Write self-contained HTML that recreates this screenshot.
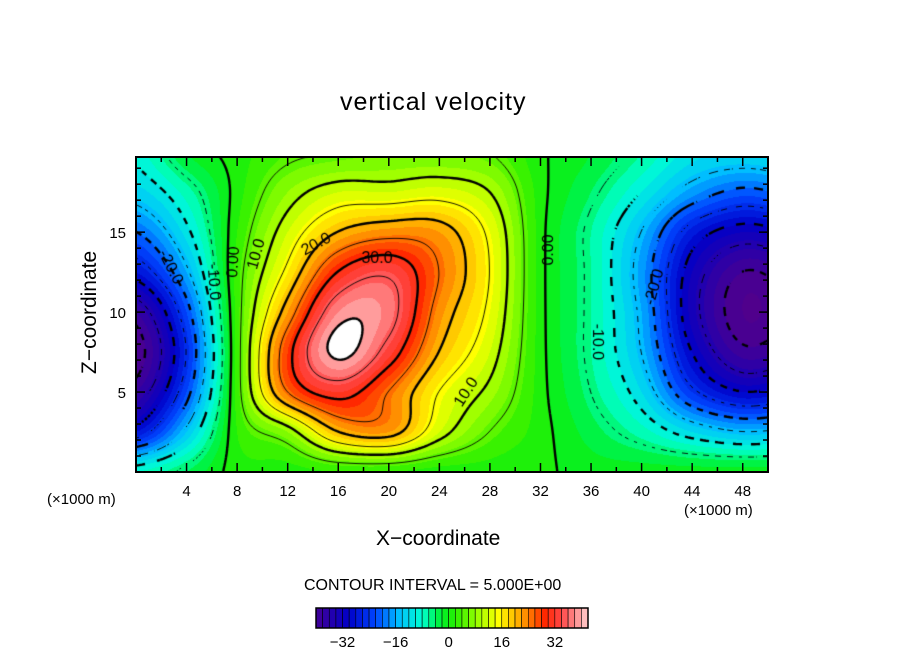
<!DOCTYPE html>
<html><head><meta charset="utf-8">
<style>
body{margin:0;background:#fff;width:904px;height:654px;overflow:hidden;position:relative;font-family:"Liberation Sans",sans-serif;color:#000}
.t{position:absolute;white-space:nowrap}
</style></head>
<body>
<div class="t" style="left:340px;top:88px;font-size:25px;letter-spacing:1px">vertical velocity</div>
<div class="t" style="left:30px;top:302px;font-size:21px;transform:rotate(-90deg);transform-origin:center;width:120px;text-align:center">Z−coordinate</div>
<div class="t" style="left:376px;top:527px;font-size:21px">X−coordinate</div>
<div class="t" style="left:47px;top:491px;font-size:15px">(×1000 m)</div>
<div class="t" style="left:684px;top:502px;font-size:15px">(×1000 m)</div>
<div class="t" style="left:304px;top:577px;font-size:16px">CONTOUR INTERVAL = 5.000E+00</div>
<canvas id="cv" width="632" height="315" style="position:absolute;left:136px;top:157px"></canvas>
<svg id="ov" width="904" height="654" style="position:absolute;left:0;top:0"></svg>
<script>
// grid coordinates (km) and values
const xNodes = [0,4,8,12,16,20,24,28,32,36,40,44,48,52];
const zNodes = [0,2.5,5,7.5,10,12.5,15,17.5,20];
const w_x0  = [-8,-28,-38,-42,-38,-28,-20,-13,-9];
const w_x4  = [-4,-14,-22,-25,-22,-16,-11,-7,-2];
const w_x8  = [1,2,3,3,3,3,2,1,1];
const w_x12 = [1,8,25,28,22,16,12,8,4];
const w_x16 = [2,20,32,41,38,30,20,12,5];
const w_x20 = [2,22,25,33,37,34,23,12,6];
const w_x24 = [1,12,15,20,23,25,22,13,6];
const w_x28 = [1,5,9,12,14,15,14,10,5];
const w_x32 = [0.5,1,1,1,1,1,1,1,0.5];
const w_x36 = [-1,-3,-5,-6,-6,-6,-6,-4,-2];
const w_x40 = [-1,-7,-12,-15,-16,-17,-15,-10,-6];
const w_x44 = [-1,-12,-24,-30,-33,-32,-27,-17,-11];
const w_x48 = [-1,-15,-30,-39,-42,-40,-32,-21,-12];
const w_x52 = [-1,-14,-28,-37,-40,-38,-30,-19,-11];
const columns = [w_x0,w_x4,w_x8,w_x12,w_x16,w_x20,w_x24,w_x28,w_x32,w_x36,w_x40,w_x44,w_x48,w_x52];
const xTickLabels = [4,8,12,16,20,24,28,32,36,40,44,48];
const zTickLabels = [5,10,15];
const cbarTicks = [-32,-16,0,16,32];
const contourLevels = [-40,-35,-30,-25,-20,-15,-10,-5,0,5,10,15,20,25,30,35,40];

const PX0=136,PX1=768,PY0=157,PY1=472,XMAX=50,ZMAX=19.7;
const sx=x=>PX0+(x/XMAX)*(PX1-PX0);
const sz=z=>PY1-(z/ZMAX)*(PY1-PY0);

function cr(p0,p1,p2,p3,t){return 0.5*((2*p1)+(-p0+p2)*t+(2*p0-5*p1+4*p2-p3)*t*t+(-p0+3*p1-3*p2+p3)*t*t*t);}
function g(i,j){i=Math.max(0,Math.min(columns.length-1,i));j=Math.max(0,Math.min(zNodes.length-1,j));return columns[i][j];}
function field(x,z){
  const fi=x/4, fj=z/2.5; const i=Math.floor(fi), j=Math.floor(fj); const tx=fi-i, tz=fj-j;
  const r=[];
  for(let a=-1;a<=2;a++) r.push(cr(g(i+a,j-1),g(i+a,j),g(i+a,j+1),g(i+a,j+2),tz));
  return cr(r[0],r[1],r[2],r[3],tx);
}
const stops=[[-42,[80,0,140]],[-36,[40,0,170]],[-30,[0,0,200]],[-22,[0,70,255]],[-15,[0,190,255]],[-8,[0,255,210]],[-2,[0,240,40]],[2,[40,240,0]],[9,[160,255,0]],[15,[255,255,0]],[22,[255,160,0]],[29,[255,40,0]],[34,[255,70,70]],[41,[255,190,190]],[43,[255,255,255]]];
function col(v){
  if(v<=stops[0][0])return stops[0][1];
  for(let k=1;k<stops.length;k++){if(v<=stops[k][0]){const a=stops[k-1],b=stops[k];const t=(v-a[0])/(b[0]-a[0]);return a[1].map((c,q)=>Math.round(c+(b[1][q]-c)*t));}}
  return stops[stops.length-1][1];
}
const cv=document.getElementById('cv');const ctx=cv.getContext('2d');
const W=cv.width,H=cv.height;const img=ctx.createImageData(W,H);
const vals=new Float32Array(W*H);
for(let py=0;py<H;py++)for(let px=0;px<W;px++){
  const x=(px+0.5)/W*XMAX, z=(H-py-0.5)/H*ZMAX; const v=field(x,z); vals[py*W+px]=v;
  const q=Math.floor(v/2)*2+1; const c=v>40?[255,255,255]:col(q); const o=(py*W+px)*4;
  img.data[o]=c[0];img.data[o+1]=c[1];img.data[o+2]=c[2];img.data[o+3]=255;
}
ctx.putImageData(img,0,0);
const S=3;
function V(px,py){px=Math.min(W-1,px);py=Math.min(H-1,py);return vals[py*W+px];}
contourLevels.forEach(L=>{
  ctx.strokeStyle='#000';ctx.lineWidth=(L%10===0)?2.4:0.9;ctx.beginPath();
  for(let py=0;py<H-1;py+=S)for(let px=0;px<W-1;px+=S){
    const c=[[px,py,V(px,py)],[px+S,py,V(px+S,py)],[px+S,py+S,V(px+S,py+S)],[px,py+S,V(px,py+S)]];
    const pts=[];
    for(let e=0;e<4;e++){const a=c[e],b=c[(e+1)%4];if((a[2]<L)!==(b[2]<L)){const t=(L-a[2])/(b[2]-a[2]);pts.push([a[0]+(b[0]-a[0])*t,a[1]+(b[1]-a[1])*t]);}}
    if(L<0&&Math.floor((px+py)/(L%10===0?9:6))%2===1)continue;
    for(let k=0;k+1<pts.length;k+=2){ctx.moveTo(pts[k][0],pts[k][1]);ctx.lineTo(pts[k+1][0],pts[k+1][1]);}
  }
  ctx.stroke();
});
ctx.font='16px "Liberation Sans",sans-serif';
[['30.0',241,101,0],['20.0',180,87,-0.5],['10.0',120,97,-1.3],['0.00',97,105,-1.5],['0.00',412,93,-1.57],['10.0',330,235,-1.0],['-20.0',35,110,1.1],['-10.0',78,125,1.5],['-20.0',518,130,-1.3],['-10.0',462,185,1.57]].forEach(a=>{
  ctx.save();ctx.translate(a[1],a[2]);ctx.rotate(a[3]);const w=ctx.measureText(a[0]).width;
  ctx.fillStyle='#000';ctx.fillText(a[0],-w/2,5);ctx.restore();
});
const ov=document.getElementById('ov');const NS='http://www.w3.org/2000/svg';
function el(t,at,txt){const e=document.createElementNS(NS,t);for(const k in at)e.setAttribute(k,at[k]);if(txt!==undefined)e.textContent=txt;ov.appendChild(e);return e;}
const fr=el('rect',{x:PX0,y:PY0,width:PX1-PX0,height:PY1-PY0,fill:'none',stroke:'#000','stroke-width':2});


for(let x=2;x<XMAX;x+=2){const L=x%4===0?9:5;
  el('line',{x1:sx(x),x2:sx(x),y1:PY1,y2:PY1-L,stroke:'#000','stroke-width':1.5});
  el('line',{x1:sx(x),x2:sx(x),y1:PY0,y2:PY0+L,stroke:'#000','stroke-width':1.5});}
for(let z=1;z<ZMAX;z+=1){const L=z%5===0?9:5;
  el('line',{x1:PX0,x2:PX0+L,y1:sz(z),y2:sz(z),stroke:'#000','stroke-width':1.5});
  el('line',{x1:PX1,x2:PX1-L,y1:sz(z),y2:sz(z),stroke:'#000','stroke-width':1.5});}
xTickLabels.forEach(v=>{const t=el('text',{x:sx(v),y:496,'font-size':15,'text-anchor':'middle','font-family':'Liberation Sans'},String(v));
  
  });
zTickLabels.forEach(v=>{const t=el('text',{x:126,y:sz(v)+6,'font-size':15,'text-anchor':'end','font-family':'Liberation Sans'},String(v));
  
  });
const CB0=316,CB1=588,CBY=608,CBH=20,VMIN=-40,VMAX=42;
const cbx=v=>CB0+(v-VMIN)/(VMAX-VMIN)*(CB1-CB0);
for(let v=VMIN;v<VMAX;v+=2){const c=col(v+1);
  const r=el('rect',{x:cbx(v),y:CBY,width:cbx(v+2)-cbx(v),height:CBH,fill:`rgb(${c})`,stroke:'#000','stroke-width':0.6});
  
  }
el('rect',{x:CB0,y:CBY,width:CB1-CB0,height:CBH,fill:'none',stroke:'#000','stroke-width':1.5});
cbarTicks.forEach(v=>{const t=el('text',{x:cbx(v),y:647,'font-size':15,'text-anchor':'middle','font-family':'Liberation Sans'},(v<0?'−':'')+Math.abs(v));
  
  });
</script>
</body></html>
